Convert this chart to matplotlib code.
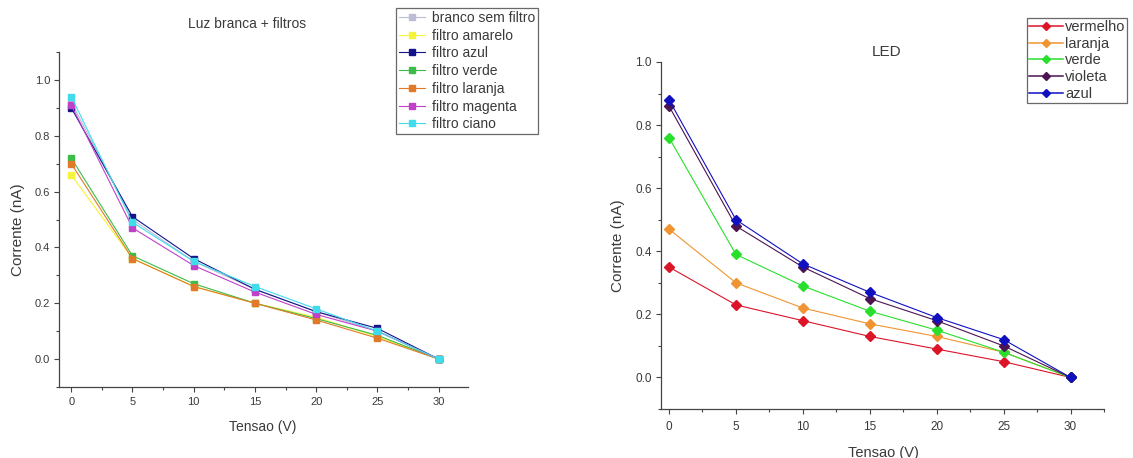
import matplotlib.pyplot as plt
from matplotlib.lines import Line2D
from matplotlib.ticker import MultipleLocator, FormatStrFormatter

# Tensao (V)
tensao = [0, 5, 10, 15, 20, 25, 30]

# Luz branca + filtros, corrente (nA)
branco_sem_filtro = [0.92, 0.50, 0.35, 0.25, 0.17, 0.10, 0.0]
filtro_amarelo = [0.66, 0.36, 0.26, 0.20, 0.15, 0.08, 0.0]
filtro_azul = [0.90, 0.51, 0.36, 0.25, 0.17, 0.11, 0.0]
filtro_verde = [0.72, 0.37, 0.27, 0.20, 0.145, 0.085, 0.0]
filtro_laranja = [0.70, 0.36, 0.26, 0.20, 0.14, 0.075, 0.0]
filtro_magenta = [0.91, 0.47, 0.335, 0.24, 0.16, 0.10, 0.0]
filtro_ciano = [0.94, 0.49, 0.35, 0.26, 0.18, 0.10, 0.0]

# LED, corrente (nA)
vermelho = [0.35, 0.23, 0.18, 0.13, 0.09, 0.05, 0.0]
laranja = [0.47, 0.30, 0.22, 0.17, 0.13, 0.08, 0.0]
verde = [0.76, 0.39, 0.29, 0.21, 0.15, 0.08, 0.0]
violeta = [0.86, 0.48, 0.35, 0.25, 0.18, 0.10, 0.0]
azul = [0.88, 0.50, 0.36, 0.27, 0.19, 0.12, 0.0]

filtros = [
    ("branco sem filtro", branco_sem_filtro, "#bcbcd4"),
    ("filtro amarelo", filtro_amarelo, "#f4f43a"),
    ("filtro azul", filtro_azul, "#14148a"),
    ("filtro verde", filtro_verde, "#3cbc48"),
    ("filtro laranja", filtro_laranja, "#e07a28"),
    ("filtro magenta", filtro_magenta, "#c040c8"),
    ("filtro ciano", filtro_ciano, "#40dcec"),
]

leds = [
    ("vermelho", vermelho, "#dc1428"),
    ("laranja", laranja, "#f09432"),
    ("verde", verde, "#28e02c"),
    ("violeta", violeta, "#4c1450"),
    ("azul", azul, "#1010c0"),
]

text_color = "#3a3a3a"
plt.rcParams['font.family'] = ['Liberation Sans', 'DejaVu Sans']

W, H = 1133, 458
fig = plt.figure(figsize=(W / 100, H / 100), dpi=100)


def px(x, y):
    # pixel position (from top left) -> figure fraction
    return x / W, 1 - y / H


def style_axes(ax, size, xpad, ypad):
    ax.spines['top'].set_visible(False)
    ax.spines['right'].set_visible(False)
    for s in ('left', 'bottom'):
        ax.spines[s].set_color("#444444")
        ax.spines[s].set_linewidth(0.9)
    ax.xaxis.set_major_locator(MultipleLocator(5))
    ax.xaxis.set_minor_locator(MultipleLocator(2.5))
    ax.yaxis.set_major_locator(MultipleLocator(0.2))
    ax.yaxis.set_minor_locator(MultipleLocator(0.1))
    ax.yaxis.set_major_formatter(FormatStrFormatter('%.1f'))
    ax.tick_params(which='major', direction='out', length=3.5, width=0.8,
                   colors="#444444", labelcolor=text_color, labelsize=size)
    ax.tick_params(which='minor', direction='out', length=2.5, width=0.8,
                   colors="#444444")
    ax.tick_params(axis='x', which='major', pad=xpad)
    ax.tick_params(axis='y', which='major', pad=ypad)


# Left: luz branca + filtros
ax1 = fig.add_axes([59 / W, 1 - 387 / H, (468 - 59) / W, (387 - 52) / H])
for name, vals, col in filtros:
    ax1.plot(tensao, vals, color=col, marker='s', markersize=4.5, linewidth=0.8,
             label=name)
ax1.set_xlim(-1, 32.4)
ax1.set_ylim(-0.1, 1.1)
style_axes(ax1, 8, 4, 3)
fig.text(*px(263, 427), "Tensao (V)", fontsize=10, color=text_color,
         ha='center', va='center')
fig.text(*px(18, 230), "Corrente (nA)", fontsize=11, color=text_color,
         ha='center', va='center', rotation=90)
fig.text(*px(247, 24), "Luz branca + filtros", fontsize=10, color=text_color,
         ha='center', va='center')
leg1 = ax1.legend(loc='upper left', bbox_to_anchor=px(396, 8),
                  bbox_transform=fig.transFigure, fontsize=10, frameon=True,
                  fancybox=False, borderaxespad=0, handlelength=1.9,
                  labelspacing=0.27, borderpad=0.2, handletextpad=0.5,
                  markerscale=0.9)
leg1.get_frame().set_edgecolor("#444444")
leg1.get_frame().set_linewidth(0.9)
for t in leg1.get_texts():
    t.set_color(text_color)

# Right: LED
ax2 = fig.add_axes([661 / W, 1 - 409 / H, (1104 - 661) / W, (409 - 62) / H])
for name, vals, col in leds:
    ax2.plot(tensao, vals, color=col, marker='D', markersize=5, linewidth=0.8)
ax2.set_xlim(-0.6, 32.5)
ax2.set_ylim(-0.1, 1.0)
style_axes(ax2, 8.5, 5, 3)
fig.text(*px(883, 453), "Tensao (V)", fontsize=10.5, color=text_color,
         ha='center', va='center')
fig.text(*px(618, 246), "Corrente (nA)", fontsize=11, color=text_color,
         ha='center', va='center', rotation=90)
fig.text(*px(887, 52), "LED", fontsize=11, color=text_color,
         ha='center', va='center')
handles = [Line2D([], [], color=col, marker='D', markersize=4.5, linewidth=1.1)
           for name, vals, col in leds]
leg2 = ax2.legend(handles, [n for n, v, c in leds], loc='upper left',
                  bbox_to_anchor=px(1027, 18), bbox_transform=fig.transFigure,
                  fontsize=10.5, frameon=True, fancybox=False, borderaxespad=0,
                  handlelength=2.3, labelspacing=0.18, borderpad=0.15,
                  handletextpad=0.15)
leg2.get_frame().set_edgecolor("#444444")
leg2.get_frame().set_linewidth(0.9)
for t in leg2.get_texts():
    t.set_color(text_color)

fig.savefig("out.png", dpi=100)
